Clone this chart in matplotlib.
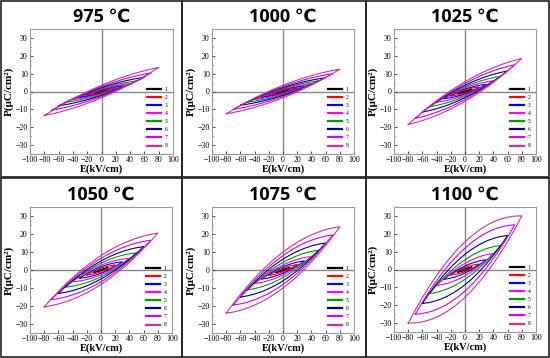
import numpy as np
import matplotlib
matplotlib.use("Agg")
import matplotlib.pyplot as plt
from matplotlib.patches import Rectangle

titles = ["975 ℃", "1000 ℃", "1025 ℃", "1050 ℃", "1075 ℃", "1100 ℃"]
labels = ["1", "2", "3", "4", "5", "6", "7", "8"]
colors = ["#000000", "#ff0000", "#0000ff", "#ff00ff", "#009900", "#000080", "#cc00ff", "#cc3399"]
emax = [10, 20, 30, 40, 50, 60, 70, 80]

# peak polarisation (uC/cm2) at emax, per panel
pmax_975 = [1.0, 2.2, 3.3, 4.5, 6.0, 8.0, 10.5, 13.5]
pmax_1000 = [1.0, 2.1, 3.2, 4.5, 6.0, 7.7, 10.0, 12.5]
pmax_1025 = [1.2, 2.5, 4.0, 6.0, 8.5, 11.5, 15.0, 18.5]
pmax_1050 = [1.3, 2.8, 4.5, 6.5, 9.5, 13.0, 16.5, 20.5]
pmax_1075 = [1.4, 3.0, 5.0, 7.5, 11.0, 15.0, 19.5, 24.0]
pmax_1100 = [1.5, 3.0, 5.5, 9.0, 13.5, 19.0, 25.0, 30.0]

# remanent polarisation (uC/cm2) at E = 0, per panel
pr_975 = [0.3, 0.6, 1.0, 1.3, 1.7, 2.2, 2.8, 3.5]
pr_1000 = [0.3, 0.6, 1.0, 1.3, 1.7, 2.2, 2.8, 3.5]
pr_1025 = [0.4, 0.9, 1.4, 2.0, 2.7, 3.5, 4.5, 5.5]
pr_1050 = [0.4, 1.0, 1.8, 2.7, 3.8, 5.0, 6.5, 8.0]
pr_1075 = [0.4, 1.0, 1.8, 2.8, 4.2, 6.0, 8.0, 10.0]
pr_1100 = [0.5, 1.2, 2.0, 3.5, 5.5, 8.5, 12.0, 15.5]

pmax_all = [pmax_975, pmax_1000, pmax_1025, pmax_1050, pmax_1075, pmax_1100]
pr_all = [pr_975, pr_1000, pr_1025, pr_1050, pr_1075, pr_1100]

W, H = 550, 358
fig = plt.figure(figsize=(5.5, 3.58), dpi=100)

serif = ["Liberation Serif", "DejaVu Serif"]

# axes boxes in pixels: (left, top, right, bottom)
boxes = [(30, 29, 173, 154), (212, 29, 354, 154), (394, 29, 536, 154),
         (30, 207, 172, 333), (212, 207, 354, 333), (394, 207, 536, 332)]
panels = [(1, 1, 182, 177), (182, 1, 366, 177), (366, 1, 549, 177),
          (1, 178, 182, 357), (182, 178, 366, 357), (366, 178, 549, 357)]

for (l, t, r, b) in panels:
    fig.patches.append(Rectangle((l / W, 1 - b / H), (r - l) / W, (b - t) / H,
                                 transform=fig.transFigure, fill=False,
                                 edgecolor="#222222", linewidth=1.2))

for k in range(6):
    l, t, r, b = boxes[k]
    ax = fig.add_axes([l / W, 1 - b / H, (r - l) / W, (b - t) / H])
    ax.axhline(0, color="#888888", lw=1.0, zorder=1)
    ax.axvline(0, color="#888888", lw=1.0, zorder=1)
    for i in range(8):
        e = np.linspace(-emax[i], emax[i], 200)
        x = e / emax[i]
        up = pmax_all[k][i] * x + pr_all[k][i] * (1 - x ** 2)
        lo = pmax_all[k][i] * x - pr_all[k][i] * (1 - x ** 2)
        ee = np.concatenate([e, e[::-1]])
        pp = np.concatenate([up, lo[::-1]])
        ax.plot(ee, pp, color=colors[i], lw=0.8, label=labels[i], zorder=2)
    ax.set_xlim(-100, 100)
    ax.set_ylim(-35, 35)
    ax.set_xticks(np.arange(-100, 101, 20))
    ax.set_yticks(np.arange(-30, 31, 10))
    ax.set_yticks(np.arange(-35, 36, 5), minor=True)
    ax.tick_params(direction="in", length=2, width=0.6, labelsize=5.7, pad=1.5, colors="#333333")
    ax.tick_params(which="minor", direction="in", length=1, width=0.5)
    for lab in ax.get_xticklabels() + ax.get_yticklabels():
        lab.set_family(serif)
        lab.set_color("black")
    for s in ax.spines.values():
        s.set_color("#999999")
        s.set_linewidth(0.8)
    ax.set_xlabel("E(kV/cm)", family=serif, fontweight="bold", fontsize=7.5, labelpad=0.5)
    ax.set_ylabel("P(μC/cm²)", family=serif, fontweight="bold", fontsize=8, labelpad=1)
    ax.set_title(titles[k], family=["Open Sans", "DejaVu Sans"], fontweight="bold", fontsize=13, pad=5)
    leg = ax.legend(loc="lower right", fontsize=4, frameon=False, handlelength=2.6,
                    labelspacing=0.55, handletextpad=0.6, borderaxespad=0.6)
    for h in leg.legend_handles:
        h.set_linewidth(1.6)
    for txt in leg.get_texts():
        txt.set_family(serif)

fig.savefig("out.png", dpi=100)
